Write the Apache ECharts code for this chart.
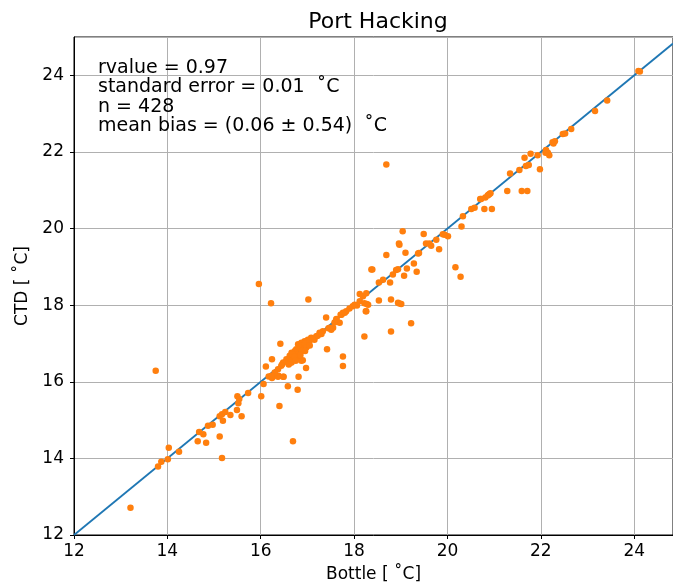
<!DOCTYPE html>
<html>
<head>
<meta charset="utf-8">
<script src="https://cdn.jsdelivr.net/npm/echarts@6/dist/echarts.min.js"></script>
<style>
  html, body { margin: 0; padding: 0; background: #fff; }
  #chart { width: 673px; height: 588px; }
</style>
</head>
<body>
<div id="chart"></div>
<script>
// bottle vs CTD temperature pairs [bottle, ctd]
var lowPoints = [
  [13.21, 12.71], [13.75, 16.29], [13.80, 13.79], [13.87, 13.91], [14.01, 13.98],
  [14.03, 14.28], [14.25, 14.17], [14.65, 14.45], [14.68, 14.69], [14.77, 14.63],
  [14.83, 14.41], [14.87, 14.85], [14.97, 14.88], [15.12, 14.57], [15.17, 14.01],
  [15.12, 15.10], [15.19, 14.98], [15.17, 15.15], [15.24, 15.21], [15.35, 15.13],
  [15.49, 15.26], [15.50, 15.62], [15.54, 15.55], [15.52, 15.44], [15.59, 15.10],
  [15.73, 15.71], [15.96, 18.55], [16.01, 15.62], [16.06, 15.94]
];
var midPoints = [
  [16.11, 16.40], [16.17, 16.14], [16.24, 16.10], [16.24, 16.59], [16.22, 18.05],
  [16.42, 16.99], [16.46, 16.46], [16.38, 16.16], [16.49, 16.13], [16.58, 15.88],
  [16.79, 15.79], [16.81, 16.13], [16.97, 16.36], [16.40, 15.37], [16.69, 14.45],
  [17.02, 18.15], [17.40, 17.68], [17.42, 16.85], [17.76, 16.66], [17.76, 16.41],
  [16.90, 16.56], [16.26, 16.13], [16.37, 16.13], [16.48, 16.13], [16.79, 16.63],
  [16.87, 16.55], [16.66, 16.50],
  [17.71, 17.75], [17.76, 17.80], [17.83, 17.84], [17.90, 17.91], [17.97, 17.97],
  [18.06, 17.99], [18.12, 18.10], [18.22, 18.05], [18.26, 17.84], [18.30, 18.01],
  [17.62, 17.62], [17.69, 17.54], [17.55, 17.41], [17.51, 17.36], [17.33, 17.32],
  [17.26, 17.28], [17.19, 17.19], [17.08, 17.15], [17.01, 17.10], [16.94, 17.06],
  [16.87, 17.02], [16.80, 16.98], [16.76, 16.85], [16.73, 16.80], [16.66, 16.76],
  [16.62, 16.68], [16.55, 16.59], [16.48, 16.50], [16.44, 16.42], [16.37, 16.33],
  [16.30, 16.24], [16.23, 16.16],
  [16.85, 16.92], [16.90, 16.95], [16.95, 17.00], [17.05, 17.08], [17.12, 17.12],
  [16.70, 16.62], [16.78, 16.72], [16.60, 16.55], [17.15, 17.10], [17.22, 17.20],
  [17.30, 17.25], [17.45, 17.40], [17.58, 17.55], [16.82, 16.90], [16.92, 16.84],
  [16.68, 16.72], [16.64, 16.50], [16.72, 16.65], [16.88, 16.80], [16.98, 16.90],
  [16.60, 16.45], [16.75, 16.55], [16.85, 16.70], [16.95, 16.80], [17.05, 16.95],
  [17.62, 17.64], [17.73, 17.75], [17.80, 17.80], [17.48, 17.41], [18.01, 18.01]
];
var upperPoints = [
  [18.22, 17.18], [18.79, 17.31], [19.22, 17.53], [18.25, 17.84], [18.27, 18.03],
  [18.53, 18.12], [18.79, 18.15], [18.94, 18.06], [19.01, 18.03], [18.39, 18.93],
  [18.69, 19.31], [19.10, 19.37], [18.69, 21.67], [19.04, 19.93], [19.49, 19.86],
  [18.97, 19.58], [18.37, 18.93], [19.28, 19.09], [19.13, 18.96], [19.34, 18.87],
  [19.07, 18.77], [18.77, 18.59], [18.97, 18.04], [20.17, 18.99], [20.28, 18.74],
  [20.30, 20.05], [20.33, 20.32], [19.82, 19.46], [20.01, 19.80], [19.90, 19.85],
  [19.39, 19.36], [18.96, 19.61],
  [18.12, 18.29], [18.19, 18.23], [18.26, 18.31], [18.53, 18.59], [18.62, 18.66],
  [18.83, 18.80], [18.90, 18.92], [18.94, 18.94], [19.37, 19.35], [19.54, 19.61],
  [19.61, 19.61], [19.65, 19.55], [19.76, 19.71], [19.94, 19.84],
  [20.51, 20.51], [20.58, 20.54], [20.70, 20.77], [20.81, 20.81], [20.88, 20.88],
  [20.92, 20.92], [20.79, 20.51], [20.95, 20.51], [20.90, 20.90], [20.86, 20.86],
  [20.72, 20.77]
];
var highPoints = [
  [21.28, 20.98], [21.34, 21.44], [21.54, 21.53], [21.65, 21.85], [21.74, 21.66],
  [21.68, 21.63], [21.78, 21.95], [21.93, 21.91], [21.98, 21.55], [22.11, 22.05],
  [22.15, 21.98], [22.18, 21.91], [22.10, 21.98], [22.27, 22.22], [22.25, 22.25],
  [22.30, 22.28], [22.47, 22.47], [22.52, 22.48], [22.65, 22.60], [23.16, 23.07],
  [23.42, 23.34], [24.09, 24.11], [24.12, 24.10], [21.59, 20.98], [21.71, 20.98]
];
var oneToOne = [12, 24.83];
var statsLines = [
  'rvalue = 0.97',
  'standard error = 0.01  \u02daC',
  'n = 428',
  'mean bias = (0.06 \u00b1 0.54)  \u02daC'
];

var points = lowPoints.concat(midPoints, upperPoints, highPoints);
var font = 'DejaVu Sans';

var chart = echarts.init(document.getElementById('chart'));
chart.setOption({
  animation: false,
  backgroundColor: '#fff',
  title: {
    text: 'Port Hacking',
    left: 373,
    top: 6,
    textAlign: 'center',
    textStyle: { fontFamily: font, fontSize: 22, fontWeight: 'normal', color: '#000' }
  },
  grid: {
    left: 74,
    right: -2,
    top: 37,
    bottom: 49,
    show: true,
    borderColor: '#000',
    borderWidth: 1
  },
  xAxis: {
    type: 'value',
    min: 12,
    max: oneToOne[1],
    interval: 2,
    name: 'Bottle [ \u02daC]',
    nameLocation: 'middle',
    nameGap: 31,
    nameTextStyle: { fontFamily: font, fontSize: 17, color: '#000' },
    axisLine: { lineStyle: { color: '#000', width: 1 } },
    axisTick: { show: true, inside: false, length: 4, lineStyle: { color: '#000' } },
    axisLabel: {
      fontFamily: font, fontSize: 17, color: '#000', margin: 8,
      showMaxLabel: false,
      formatter: function (v) { return v % 2 === 0 ? v : ''; }
    },
    splitLine: { show: true, lineStyle: { color: '#b0b0b0', width: 1 } }
  },
  yAxis: {
    type: 'value',
    min: 12,
    max: 25,
    interval: 2,
    name: 'CTD [ \u02daC]',
    nameLocation: 'middle',
    nameGap: 42,
    nameTextStyle: { fontFamily: font, fontSize: 17, color: '#000' },
    axisLine: { show: true, lineStyle: { color: '#000', width: 1 } },
    axisTick: { show: true, inside: false, length: 4, lineStyle: { color: '#000' } },
    axisLabel: {
      fontFamily: font, fontSize: 17, color: '#000', margin: 10,
      showMaxLabel: false,
      formatter: function (v) { return v % 2 === 0 ? v : ''; }
    },
    splitLine: { show: true, lineStyle: { color: '#b0b0b0', width: 1 } }
  },
  graphic: [{
    type: 'text',
    left: 98,
    top: 58,
    style: {
      text: statsLines.join('\n'),
      fontFamily: font,
      fontSize: 19,
      lineHeight: 19.5,
      fill: '#000'
    },
    z: 100
  }],
  series: [
    {
      type: 'line',
      data: [[oneToOne[0], oneToOne[0]], [oneToOne[1], oneToOne[1]]],
      symbol: 'none',
      lineStyle: { color: '#1f77b4', width: 1.8 },
      z: 2
    },
    {
      type: 'scatter',
      data: points,
      symbolSize: 6.5,
      itemStyle: { color: '#ff7f0e', opacity: 1 },
      z: 3
    }
  ]
});
</script>
</body>
</html>
